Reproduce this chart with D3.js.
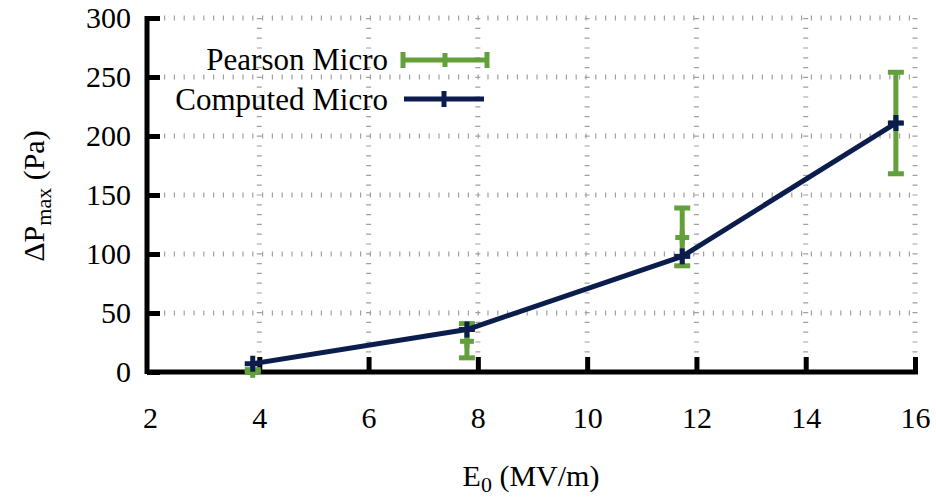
<!DOCTYPE html>
<html>
<head>
<meta charset="utf-8">
<script src="https://cdn.jsdelivr.net/npm/d3@7"></script>
<style>
  body { margin: 0; background: #fff; }
  text { font-family: "Liberation Serif", "DejaVu Serif", serif; fill: #000; }
</style>
</head>
<body>
<div id="chart"></div>
<script>
const xTicks = [2, 4, 6, 8, 10, 12, 14, 16];
const yTicks = [0, 50, 100, 150, 200, 250, 300];

// computed curve
const computedE = [3.88, 7.8, 11.74, 15.65];
const computedP = [7, 36, 98, 211];

// pearson measurements with error bars
const pearsonE = [3.88, 7.8, 11.74, 15.65];
const pearsonP = [1, 26, 114, 211];
const pearsonLo = [0, 12, 90, 168];
const pearsonHi = [2, 41, 139, 254];

const width = 936, height = 499;
const margin = { top: 18, right: 21, bottom: 127, left: 150 };

const green = "#63a03b";
const navy = "#0b1d4d";
const fs = "30px";

const svg = d3.select("#chart").append("svg")
  .attr("width", width)
  .attr("height", height);

const x = d3.scaleLinear().domain([2, 16]).range([margin.left, width - margin.right]);
const y = d3.scaleLinear().domain([0, 300]).range([height - margin.bottom, margin.top]);

// --- grid (dotted, gnuplot style) ---
const grid = svg.append("g").attr("stroke", "#a0a0a0");
grid.selectAll(".hg")
  .data(yTicks.slice(1))
  .enter().append("line")
  .attr("x1", x(2) + 14).attr("x2", x(16))
  .attr("y1", d => y(d)).attr("y2", d => y(d))
  .attr("stroke-width", 5)
  .attr("stroke-dasharray", "1.2,8.6");
grid.selectAll(".vg")
  .data(xTicks.slice(1))
  .enter().append("line")
  .attr("x1", d => x(d)).attr("x2", d => x(d))
  .attr("y1", y(300)).attr("y2", y(0) - 16)
  .attr("stroke-width", 5)
  .attr("stroke-dasharray", "1.2,8.6");

// --- axes ---
const xAxis = svg.append("g")
  .attr("transform", `translate(0,${y(0)})`)
  .call(d3.axisBottom(x).tickValues(xTicks).tickSize(-15).tickPadding(35).tickSizeOuter(0));
xAxis.select(".domain").attr("stroke", "#000").attr("stroke-width", 5)
  .attr("d", `M${x(2) - 3},0H${x(16) + 3}`);
xAxis.selectAll(".tick line").attr("stroke", "#000").attr("stroke-width", 5);
xAxis.selectAll(".tick").filter(d => d === 2).select("line").remove();
xAxis.selectAll("text").style("font-size", fs).style("font-family", "Liberation Serif");

const yAxis = svg.append("g")
  .attr("transform", `translate(${margin.left - 3},0)`)
  .call(d3.axisLeft(y).tickValues(yTicks).tickSize(-13).tickPadding(16).tickSizeOuter(0));
yAxis.select(".domain").attr("stroke", "#000").attr("stroke-width", 5)
  .attr("d", `M0,${y(300) - 2}V${y(0) + 2}`);
yAxis.selectAll(".tick line").attr("stroke", "#000").attr("stroke-width", 5);
yAxis.selectAll("text").style("font-size", fs).style("font-family", "Liberation Serif");

// --- pearson error bars ---
const pearson = pearsonE.map((e, i) => ({ e, p: pearsonP[i], lo: pearsonLo[i], hi: pearsonHi[i] }));
const eb = svg.append("g").attr("stroke", green).attr("stroke-width", 5).attr("fill", "none");
pearson.forEach(d => {
  const cx = x(d.e);
  eb.append("line").attr("x1", cx).attr("x2", cx).attr("y1", y(d.lo)).attr("y2", y(d.hi));
  eb.append("line").attr("x1", cx - 8).attr("x2", cx + 8).attr("y1", y(d.lo)).attr("y2", y(d.lo));
  eb.append("line").attr("x1", cx - 8).attr("x2", cx + 8).attr("y1", y(d.hi)).attr("y2", y(d.hi));
  eb.append("line").attr("x1", cx - 7).attr("x2", cx + 7).attr("y1", y(d.p)).attr("y2", y(d.p));
  eb.append("line").attr("x1", cx).attr("x2", cx).attr("y1", y(d.p) - 7).attr("y2", y(d.p) + 7);
});

// --- computed line ---
const computed = computedE.map((e, i) => ({ e, p: computedP[i] }));
svg.append("path")
  .datum(computed)
  .attr("fill", "none")
  .attr("stroke", navy)
  .attr("stroke-width", 5)
  .attr("stroke-linejoin", "round")
  .attr("d", d3.line().x(d => x(d.e)).y(d => y(d.p)));
const pl = svg.append("g").attr("stroke", navy).attr("stroke-width", 5);
computed.forEach(d => {
  pl.append("line").attr("x1", x(d.e) - 8).attr("x2", x(d.e) + 8).attr("y1", y(d.p)).attr("y2", y(d.p));
  pl.append("line").attr("x1", x(d.e)).attr("x2", x(d.e)).attr("y1", y(d.p) - 8).attr("y2", y(d.p) + 8);
});

// --- legend ---
const lg = svg.append("g");
lg.append("text").attr("x", 388).attr("y", 70).attr("text-anchor", "end")
  .style("font-size", "31px").text("Pearson Micro");
lg.append("text").attr("x", 388).attr("y", 110).attr("text-anchor", "end")
  .style("font-size", "31px").text("Computed Micro");
const lgg = lg.append("g").attr("stroke", green).attr("stroke-width", 5);
lgg.append("line").attr("x1", 403).attr("x2", 487).attr("y1", 60).attr("y2", 60);
lgg.append("line").attr("x1", 403).attr("x2", 403).attr("y1", 52).attr("y2", 68);
lgg.append("line").attr("x1", 487).attr("x2", 487).attr("y1", 52).attr("y2", 68);
lgg.append("line").attr("x1", 445).attr("x2", 445).attr("y1", 53).attr("y2", 67);
const lgb = lg.append("g").attr("stroke", navy).attr("stroke-width", 5);
lgb.append("line").attr("x1", 404).attr("x2", 484).attr("y1", 99).attr("y2", 99);
lgb.append("line").attr("x1", 444).attr("x2", 444).attr("y1", 91).attr("y2", 107);

// --- axis titles ---
const yt = svg.append("text")
  .attr("transform", `translate(44,196) rotate(-90)`)
  .attr("text-anchor", "middle")
  .style("font-size", fs);
yt.append("tspan").text("ΔP");
yt.append("tspan").attr("dy", 7).style("font-size", "22px").text("max");
yt.append("tspan").attr("dy", -7).text(" (Pa)");

const xt = svg.append("text")
  .attr("x", 531).attr("y", 486)
  .attr("text-anchor", "middle")
  .style("font-size", fs);
xt.append("tspan").text("E");
xt.append("tspan").attr("dy", 6).style("font-size", "22px").text("0");
xt.append("tspan").attr("dy", -6).text(" (MV/m)");
</script>
</body>
</html>
